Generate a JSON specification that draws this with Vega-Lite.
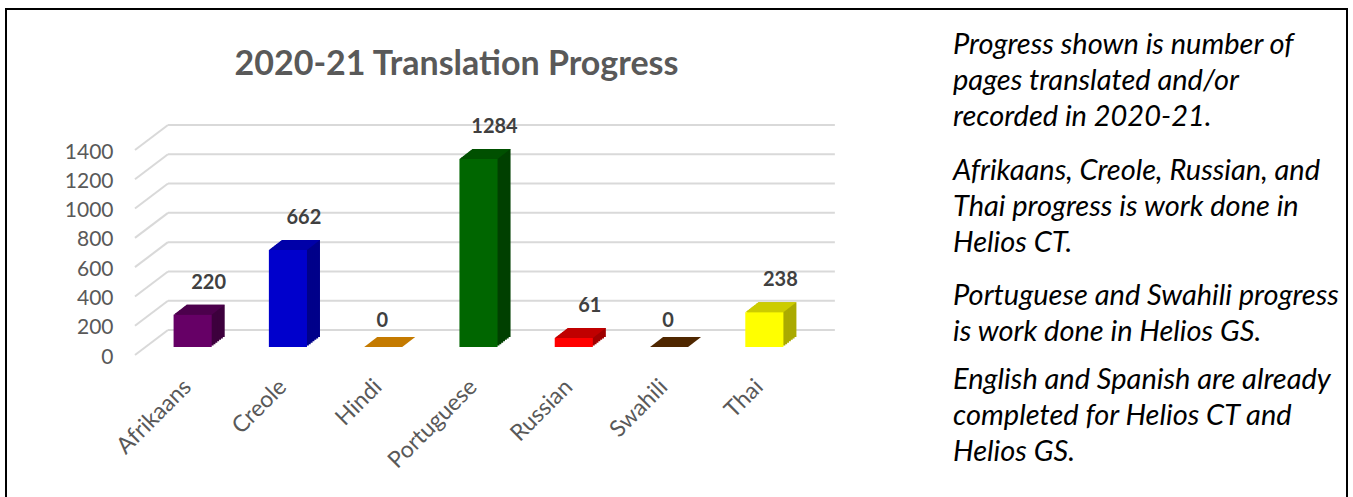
{
  "$schema": "https://vega.github.io/schema/vega-lite/v6.json",
  "width": 1341,
  "height": 492,
  "autosize": {"type": "none"},
  "padding": {"left": 6, "top": 9, "right": 6, "bottom": 0},
  "config": {
    "view": {"stroke": "#000000", "strokeWidth": 2},
    "font": "Lato"
  },
  "title": {
    "text": "2020-21 Translation Progress",
    "fontSize": 34,
    "fontWeight": "bold",
    "color": "#595959",
    "font": "Lato",
    "anchor": "middle",
    "frame": "group",
    "dx": -220,
    "offset": -90,
    "baseline": "middle"
  },
  "datasets": {
    "bars": [
      {"language": "Afrikaans", "pages": 220},
      {"language": "Creole", "pages": 662},
      {"language": "Hindi", "pages": 0},
      {"language": "Portuguese", "pages": 1284},
      {"language": "Russian", "pages": 61},
      {"language": "Swahili", "pages": 0},
      {"language": "Thai", "pages": 238}
    ],
    "grid": [
      {"v": 0}, {"v": 200}, {"v": 400}, {"v": 600},
      {"v": 800}, {"v": 1000}, {"v": 1200}, {"v": 1400}
    ],
    "notes": [
      {"para": 1, "firstLine": 0, "text": ["Progress shown is number of", "pages translated and/or", "recorded in 2020-21."]},
      {"para": 2, "firstLine": 3, "text": ["Afrikaans, Creole, Russian, and", "Thai progress is work done in", "Helios CT."]},
      {"para": 3, "firstLine": 6, "text": ["Portuguese and Swahili progress", "is work done in Helios GS."]},
      {"para": 4, "firstLine": 8, "text": ["English and Spanish are already", "completed for Helios CT and", "Helios GS."]}
    ]
  },
  "resolve": {"scale": {"y": "independent", "color": "independent"}},
  "layer": [
    {
      "data": {"name": "bars"},
      "mark": {"type": "bar", "opacity": 0},
      "encoding": {
        "x": {"field": "language", "type": "nominal",
          "scale": {"type": "band", "range": [139, 806], "paddingInner": 0.6, "paddingOuter": 0.3},
          "axis": {"orient": "bottom", "offset": -118, "labelAngle": -45, "labelAlign": "right", "labelBaseline": "middle",
                   "labelFontSize": 23, "labelColor": "#595959", "labelFont": "Lato", "ticks": false, "domain": false, "grid": false,
                   "labelPadding": 0, "labelOffset": -5, "title": null, "labelOverlap": false, "labelBound": false, "zindex": 2}},
        "y": {"field": "pages", "type": "quantitative",
          "scale": {"domain": [0, 1400], "range": [338, 133], "nice": false, "zero": true},
          "axis": {"orient": "left", "offset": -107, "values": [0, 200, 400, 600, 800, 1000, 1200, 1400], "format": "d",
                   "labelFontSize": 21, "labelColor": "#595959", "labelFont": "Lato", "ticks": false, "domain": false,
                   "grid": false, "labelPadding": 0, "labelOffset": 10, "title": null, "zindex": 2}}
      }
    },
    {
      "data": {"name": "grid"},
      "mark": {"type": "rule", "color": "#D9D9D9", "strokeWidth": 2, "yOffset": -17},
      "encoding": {
        "y": {"field": "v", "type": "quantitative", "axis": null,
          "scale": {"domain": [0, 1400], "range": [338, 133], "nice": false, "zero": true}},
        "x": {"datum": "Afrikaans", "bandPosition": -0.147},
        "x2": {"datum": "Thai", "bandPosition": 2.35}
      }
    },
    {
      "data": {"name": "grid"},
      "mark": {"type": "rule", "color": "#D9D9D9", "strokeWidth": 2, "yOffset": 8, "y2Offset": -17},
      "encoding": {
        "y": {"field": "v", "type": "quantitative", "axis": null,
          "scale": {"domain": [0, 1400], "range": [338, 133], "nice": false, "zero": true}},
        "y2": {"field": "v"},
        "x": {"datum": "Afrikaans", "bandPosition": -1.013},
        "x2": {"datum": "Afrikaans", "bandPosition": -0.147}
      }
    },
    {
      "data": {"name": "bars"},
      "mark": {"type": "bar", "xOffset": 13, "yOffset": -10, "y2Offset": -10},
      "encoding": {
        "x": {"field": "language", "type": "nominal"},
        "y": {"field": "pages", "type": "quantitative", "axis": null,
          "scale": {"domain": [0, 1400], "range": [338, 133], "nice": false, "zero": true}},
        "color": {"field": "language", "type": "nominal", "legend": null,
          "scale": {"domain": ["Afrikaans", "Creole", "Hindi", "Portuguese", "Russian", "Swahili", "Thai"],
                    "range": ["#3D003D", "#00008A", "#995C00", "#004000", "#A00000", "#3A1C00", "#AAAA00"]}}
      }
    },
    {
      "data": {"name": "bars"},
      "mark": {"type": "bar", "xOffset": 11.14, "yOffset": -8.57, "y2Offset": -8.57},
      "encoding": {
        "x": {"field": "language", "type": "nominal"},
        "y": {"field": "pages", "type": "quantitative", "axis": null,
          "scale": {"domain": [0, 1400], "range": [338, 133], "nice": false, "zero": true}},
        "color": {"field": "language", "type": "nominal", "legend": null,
          "scale": {"domain": ["Afrikaans", "Creole", "Hindi", "Portuguese", "Russian", "Swahili", "Thai"],
                    "range": ["#3D003D", "#00008A", "#995C00", "#004000", "#A00000", "#3A1C00", "#AAAA00"]}}
      }
    },
    {
      "data": {"name": "bars"},
      "mark": {"type": "bar", "xOffset": 9.29, "yOffset": -7.14, "y2Offset": -7.14},
      "encoding": {
        "x": {"field": "language", "type": "nominal"},
        "y": {"field": "pages", "type": "quantitative", "axis": null,
          "scale": {"domain": [0, 1400], "range": [338, 133], "nice": false, "zero": true}},
        "color": {"field": "language", "type": "nominal", "legend": null,
          "scale": {"domain": ["Afrikaans", "Creole", "Hindi", "Portuguese", "Russian", "Swahili", "Thai"],
                    "range": ["#3D003D", "#00008A", "#995C00", "#004000", "#A00000", "#3A1C00", "#AAAA00"]}}
      }
    },
    {
      "data": {"name": "bars"},
      "mark": {"type": "bar", "xOffset": 7.43, "yOffset": -5.71, "y2Offset": -5.71},
      "encoding": {
        "x": {"field": "language", "type": "nominal"},
        "y": {"field": "pages", "type": "quantitative", "axis": null,
          "scale": {"domain": [0, 1400], "range": [338, 133], "nice": false, "zero": true}},
        "color": {"field": "language", "type": "nominal", "legend": null,
          "scale": {"domain": ["Afrikaans", "Creole", "Hindi", "Portuguese", "Russian", "Swahili", "Thai"],
                    "range": ["#3D003D", "#00008A", "#995C00", "#004000", "#A00000", "#3A1C00", "#AAAA00"]}}
      }
    },
    {
      "data": {"name": "bars"},
      "mark": {"type": "bar", "xOffset": 5.57, "yOffset": -4.29, "y2Offset": -4.29},
      "encoding": {
        "x": {"field": "language", "type": "nominal"},
        "y": {"field": "pages", "type": "quantitative", "axis": null,
          "scale": {"domain": [0, 1400], "range": [338, 133], "nice": false, "zero": true}},
        "color": {"field": "language", "type": "nominal", "legend": null,
          "scale": {"domain": ["Afrikaans", "Creole", "Hindi", "Portuguese", "Russian", "Swahili", "Thai"],
                    "range": ["#3D003D", "#00008A", "#995C00", "#004000", "#A00000", "#3A1C00", "#AAAA00"]}}
      }
    },
    {
      "data": {"name": "bars"},
      "mark": {"type": "bar", "xOffset": 3.71, "yOffset": -2.86, "y2Offset": -2.86},
      "encoding": {
        "x": {"field": "language", "type": "nominal"},
        "y": {"field": "pages", "type": "quantitative", "axis": null,
          "scale": {"domain": [0, 1400], "range": [338, 133], "nice": false, "zero": true}},
        "color": {"field": "language", "type": "nominal", "legend": null,
          "scale": {"domain": ["Afrikaans", "Creole", "Hindi", "Portuguese", "Russian", "Swahili", "Thai"],
                    "range": ["#3D003D", "#00008A", "#995C00", "#004000", "#A00000", "#3A1C00", "#AAAA00"]}}
      }
    },
    {
      "data": {"name": "bars"},
      "mark": {"type": "bar", "xOffset": 1.86, "yOffset": -1.43, "y2Offset": -1.43},
      "encoding": {
        "x": {"field": "language", "type": "nominal"},
        "y": {"field": "pages", "type": "quantitative", "axis": null,
          "scale": {"domain": [0, 1400], "range": [338, 133], "nice": false, "zero": true}},
        "color": {"field": "language", "type": "nominal", "legend": null,
          "scale": {"domain": ["Afrikaans", "Creole", "Hindi", "Portuguese", "Russian", "Swahili", "Thai"],
                    "range": ["#3D003D", "#00008A", "#995C00", "#004000", "#A00000", "#3A1C00", "#AAAA00"]}}
      }
    },
    {
      "data": {"name": "bars"},
      "mark": {"type": "point", "shape": "M-0.95,0L0.95,0L1.6,-0.5L-0.3,-0.5Z", "size": 1600, "filled": true, "opacity": 1, "strokeWidth": 0},
      "encoding": {
        "x": {"field": "language", "type": "nominal"},
        "y": {"field": "pages", "type": "quantitative", "axis": null,
          "scale": {"domain": [0, 1400], "range": [338, 133], "nice": false, "zero": true}},
        "color": {"field": "language", "type": "nominal", "legend": null,
          "scale": {"domain": ["Afrikaans", "Creole", "Hindi", "Portuguese", "Russian", "Swahili", "Thai"],
                    "range": ["#4C004C", "#0000A8", "#C47A00", "#005000", "#C00000", "#4F2700", "#CCCC00"]}}
      }
    },
    {
      "data": {"name": "bars"},
      "mark": {"type": "bar"},
      "encoding": {
        "x": {"field": "language", "type": "nominal"},
        "y": {"field": "pages", "type": "quantitative", "axis": null,
          "scale": {"domain": [0, 1400], "range": [338, 133], "nice": false, "zero": true}},
        "color": {"field": "language", "type": "nominal", "legend": null,
          "scale": {"domain": ["Afrikaans", "Creole", "Hindi", "Portuguese", "Russian", "Swahili", "Thai"],
                    "range": ["#660066", "#0000CC", "#CC7A00", "#006600", "#FF0000", "#4D2600", "#FFFF00"]}}
      }
    },
    {
      "data": {"name": "bars"},
      "transform": [{"filter": "datum.pages > 0"}],
      "mark": {"type": "text", "dx": 16, "dy": -32, "fontSize": 20, "fontWeight": "bold", "color": "#404040", "font": "Lato", "baseline": "middle"},
      "encoding": {
        "x": {"field": "language", "type": "nominal"},
        "y": {"field": "pages", "type": "quantitative", "axis": null,
          "scale": {"domain": [0, 1400], "range": [338, 133], "nice": false, "zero": true}},
        "text": {"field": "pages", "type": "quantitative"}
      }
    },
    {
      "data": {"name": "bars"},
      "transform": [{"filter": "datum.pages == 0"}],
      "mark": {"type": "text", "dx": -1, "dy": -26, "fontSize": 20, "fontWeight": "bold", "color": "#404040", "font": "Lato", "baseline": "middle"},
      "encoding": {
        "x": {"field": "language", "type": "nominal"},
        "y": {"field": "pages", "type": "quantitative", "axis": null,
          "scale": {"domain": [0, 1400], "range": [338, 133], "nice": false, "zero": true}},
        "text": {"field": "pages", "type": "quantitative"}
      }
    },
    {
      "data": {"name": "notes"},
      "mark": {"type": "text", "align": "left", "baseline": "top", "fontSize": 29, "fontStyle": "italic", "font": "Lato", "color": "#000000", "lineHeight": 36},
      "encoding": {
        "x": {"datum": "Thai", "bandPosition": 5.45},
        "y": {"field": "firstLine", "type": "quantitative", "axis": null,
          "scale": {"domain": [0, 8], "range": [22, 357], "nice": false, "zero": false}},
        "text": {"field": "text", "type": "nominal"}
      }
    }
  ]
}
